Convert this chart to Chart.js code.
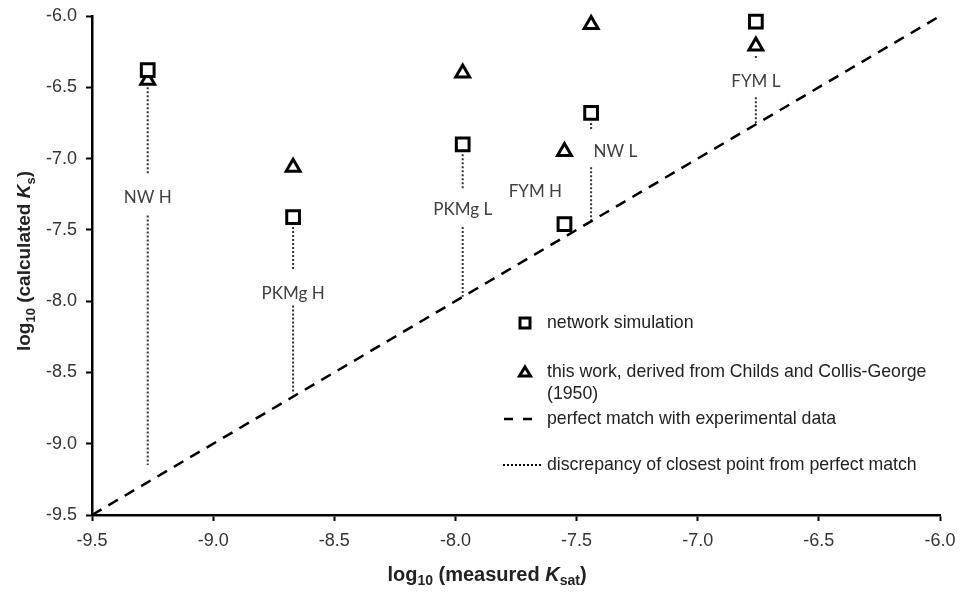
<!DOCTYPE html>
<html>
<head>
<meta charset="utf-8">
<script src="https://cdn.jsdelivr.net/npm/chart.js@4.4.1/dist/chart.umd.min.js"></script>
<style>
  html, body { margin: 0; padding: 0; background: #fff; }
  #wrap { width: 962px; height: 593px; }
</style>
</head>
<body>
<div id="wrap"><canvas id="myChart" width="962" height="593"></canvas></div>
<script>
// samples and their log10 values
const samples = ["NW H", "PKMg H", "PKMg L", "FYM H", "NW L", "FYM L"];
const measured = [-9.27, -8.67, -7.97, -7.55, -7.44, -6.76];
const network = [-6.38, -7.41, -6.90, -7.46, -6.68, -6.04];
const thisWork = [-6.45, -7.06, -6.40, -6.95, -6.06, -6.21];

// where the sample names sit
const labelX = [-9.27, -8.67, -7.97, -7.67, -7.34, -6.76];
const labelY = [-7.27, -7.95, -7.36, -7.23, -6.95, -6.46];

// dotted discrepancy segments (broken around the names)
const segX = [-9.27, -9.27, -8.67, -8.67, -7.97, -7.97, -7.44, -7.44, -6.76, -6.76];
const segTop = [-6.50, -7.40, -7.48, -8.03, -6.97, -7.48, -6.75, -7.06, -6.28, -6.57];
const segBottom = [-7.11, -9.15, -7.78, -8.65, -7.22, -7.97, -6.80, -7.43, -6.31, -6.75];

const perfect = [-9.5, -6.0];
const ticksX = [-9.5, -9.0, -8.5, -8.0, -7.5, -7.0, -6.5, -6.0];

const legendText = [
  ["network simulation"],
  ["this work, derived from Childs and Collis-George", "(1950)"],
  ["perfect match with experimental data"],
  ["discrepancy of closest point from perfect match"],
];

const discData = [];
segX.forEach((x, i) => {
  discData.push({ x: x, y: segTop[i] });
  discData.push({ x: x, y: segBottom[i] });
  discData.push({ x: x, y: null });
});

// draws text with subscripts / italics, centred on x
function richText(ctx, parts, x, y, size) {
  let w = 0;
  parts.forEach((p) => {
    ctx.font = fontFor(p, size);
    w += ctx.measureText(p.t).width;
  });
  let cx = x - w / 2;
  parts.forEach((p) => {
    ctx.font = fontFor(p, size);
    ctx.fillText(p.t, cx, p.sub ? y + 6 : y);
    cx += ctx.measureText(p.t).width;
  });
}
function fontFor(p, size) {
  const s = p.sub ? Math.round(size * 0.68) : size;
  return (p.italic ? "italic " : "") + "bold " + s + "px 'Liberation Sans', Arial, sans-serif";
}

const annotate = {
  id: "annotate",
  afterDatasetsDraw(chart) {
    const ctx = chart.ctx;
    const xs = chart.scales.x;
    const ys = chart.scales.y;
    ctx.save();

    // sample names
    ctx.fillStyle = "#404040";
    ctx.font = "17px Lato, 'Open Sans', sans-serif";
    ctx.textAlign = "center";
    ctx.textBaseline = "middle";
    samples.forEach((s, i) => {
      ctx.fillText(s, xs.getPixelForValue(labelX[i]), ys.getPixelForValue(labelY[i]));
    });

    // legend
    const lx = 525;
    const tx = 547;
    const rows = [323, 372, 419, 465];
    ctx.textAlign = "left";
    ctx.fillStyle = "#222";
    ctx.font = "17.7px 'Liberation Sans', Arial, sans-serif";
    legendText.forEach((lines, i) => {
      lines.forEach((t, j) => ctx.fillText(t, tx, rows[i] + j * 22));
    });
    ctx.strokeStyle = "#000";
    ctx.lineWidth = 3;
    ctx.setLineDash([]);
    ctx.strokeRect(lx - 5, rows[0] - 5, 10, 10);
    ctx.beginPath();
    ctx.moveTo(lx, rows[1] - 5);
    ctx.lineTo(lx + 5.5, rows[1] + 4);
    ctx.lineTo(lx - 5.5, rows[1] + 4);
    ctx.closePath();
    ctx.stroke();
    ctx.lineWidth = 2.5;
    ctx.setLineDash([9, 10]);
    ctx.beginPath();
    ctx.moveTo(504, rows[2]);
    ctx.lineTo(532, rows[2]);
    ctx.stroke();
    ctx.setLineDash([2, 2]);
    ctx.lineWidth = 2;
    ctx.beginPath();
    ctx.moveTo(503, rows[3]);
    ctx.lineTo(542, rows[3]);
    ctx.stroke();
    ctx.setLineDash([]);

    // axis titles
    ctx.fillStyle = "#222";
    ctx.textAlign = "left";
    ctx.textBaseline = "middle";
    richText(ctx, [
      { t: "log" }, { t: "10", sub: true }, { t: " (measured " },
      { t: "K", italic: true }, { t: "sat", sub: true }, { t: ")" },
    ], 487, 575, 20);

    ctx.translate(25, 261);
    ctx.rotate(-Math.PI / 2);
    richText(ctx, [
      { t: "log" }, { t: "10", sub: true }, { t: " (calculated " },
      { t: "K", italic: true }, { t: "s", sub: true }, { t: ")" },
    ], 0, 0, 19);
    ctx.restore();
  },
};

const ctx = document.getElementById("myChart");

const axisStyle = {
  type: "linear",
  min: -9.5,
  max: -6.0,
  afterBuildTicks: (scale) => { scale.ticks = ticksX.map((v) => ({ value: v })); },
  border: { display: true, color: "#000", width: 2.5 },
  grid: { drawOnChartArea: false, drawTicks: true, tickLength: 6, tickColor: "#000", tickWidth: 2 },
};

new Chart(ctx, {
  type: "scatter",
  data: {
    datasets: [
      {
        label: "perfect match with experimental data",
        type: "line",
        data: perfect.map((v) => ({ x: v, y: v })),
        borderColor: "#000",
        borderWidth: 2.5,
        borderDash: [11, 8],
        pointRadius: 0,
        fill: false,
      },
      {
        label: "discrepancy of closest point from perfect match",
        type: "line",
        data: discData,
        borderColor: "#333",
        borderWidth: 2,
        borderDash: [2, 2],
        pointRadius: 0,
        spanGaps: false,
        fill: false,
      },
      {
        label: "network simulation",
        data: measured.map((x, i) => ({ x: x, y: network[i] })),
        pointStyle: "rect",
        pointRadius: 9,
        pointBorderWidth: 3,
        pointBorderColor: "#000",
        pointBackgroundColor: "#fff",
      },
      {
        label: "this work, derived from Childs and Collis-George (1950)",
        data: measured.map((x, i) => ({ x: x, y: thisWork[i] })),
        pointStyle: "triangle",
        pointRadius: 8,
        pointBorderWidth: 3,
        pointBorderColor: "#000",
        pointBackgroundColor: "#fff",
      },
    ],
  },
  options: {
    responsive: false,
    animation: false,
    clip: false,
    layout: { padding: { top: 16, right: 22, left: 0, bottom: 0 } },
    plugins: {
      legend: { display: false },
      tooltip: { enabled: false },
    },
    scales: {
      x: {
        ...axisStyle,
        afterFit: (scale) => {
          scale.height = 78;
          scale.paddingLeft = 0;
          scale.paddingRight = 0;
        },
        ticks: {
          padding: 9,
          color: "#333",
          font: { size: 18, family: "'Liberation Sans', Arial, sans-serif" },
          callback: (v) => v.toFixed(1),
        },
      },
      y: {
        ...axisStyle,
        afterFit: (scale) => {
          scale.width = 92;
          scale.paddingTop = 0;
          scale.paddingBottom = 0;
        },
        ticks: {
          padding: 9,
          color: "#333",
          font: { size: 18, family: "'Liberation Sans', Arial, sans-serif" },
          callback: (v) => v.toFixed(1),
        },
      },
    },
  },
  plugins: [annotate],
});
</script>
</body>
</html>
